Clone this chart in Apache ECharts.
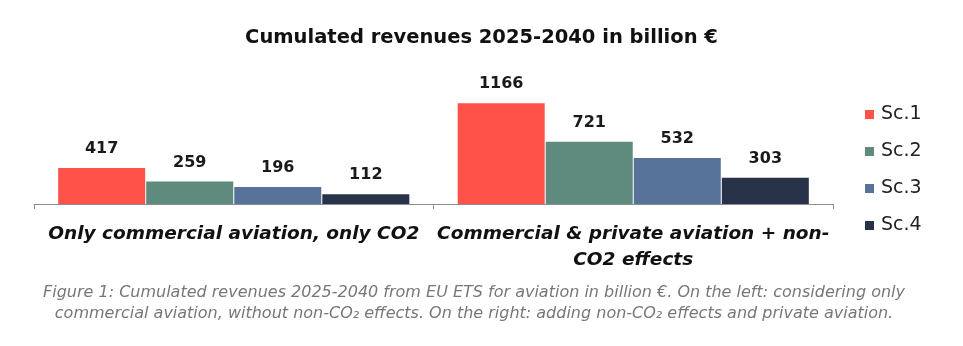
<!DOCTYPE html>
<html>
<head>
<meta charset="utf-8">
<script src="https://cdn.jsdelivr.net/npm/echarts@6/dist/echarts.min.js"></script>
<style>
  html, body { margin: 0; padding: 0; background: #ffffff; }
  #chart { width: 963px; height: 346px; }
</style>
</head>
<body>
<div id="chart"></div>
<script>
// Scenario groups shown on the category axis
const categories = [
  'Only commercial aviation, only CO2',
  'Commercial & private aviation + non-\nCO2 effects'
];
// Cumulated revenues 2025-2040, billion €
const sc1 = [417, 1166];
const sc2 = [259, 721];
const sc3 = [196, 532];
const sc4 = [112, 303];
const seriesNames = ['Sc.1', 'Sc.2', 'Sc.3', 'Sc.4'];
const colors = ['#FF5248', '#5E8B7E', '#57739A', '#283349'];

const titleText = 'Cumulated revenues 2025-2040 in billion €';
const captionLines = [
  'Figure 1: Cumulated revenues 2025-2040 from EU ETS for aviation in billion €. On the left: considering only',
  'commercial aviation, without non-CO₂ effects. On the right: adding non-CO₂ effects and private aviation.'
];

const font = 'DejaVu Sans';

const chart = echarts.init(document.getElementById('chart'), null, { renderer: 'canvas' });

const data = [sc1, sc2, sc3, sc4];
const series = data.map((vals, i) => ({
  name: seriesNames[i],
  type: 'bar',
  data: vals,
  barWidth: 87,
  barGap: '1.2%',
  itemStyle: { color: colors[i] },
  label: {
    show: true,
    position: 'top',
    distance: 11,
    fontFamily: font,
    fontWeight: 'bold',
    fontSize: 16,
    color: '#1a1a1a'
  }
}));

// Figure caption, one centred text element per line
const captionGraphics = captionLines.map((line, i) => ({
  type: 'text',
  x: 474,
  y: 293 + i * 21,
  style: {
    text: line,
    fontFamily: font,
    fontStyle: 'italic',
    fontSize: 16,
    fill: '#777777',
    align: 'center',
    verticalAlign: 'middle'
  }
}));

chart.setOption({
  animation: false,
  backgroundColor: '#ffffff',
  title: {
    text: titleText,
    left: 'center',
    top: 23,
    textStyle: { fontFamily: font, fontWeight: 'bold', fontSize: 19.5, color: '#111' }
  },
  graphic: captionGraphics,
  legend: {
    orient: 'vertical',
    left: 860,
    top: 100,
    itemWidth: 9,
    itemHeight: 9,
    itemGap: 18,
    icon: 'rect',
    data: seriesNames,
    textStyle: { fontFamily: font, fontSize: 19, color: '#222', padding: [0, 0, 0, 2] }
  },
  grid: { left: 34, right: 130, top: 83, bottom: 142 },
  xAxis: {
    type: 'category',
    data: categories,
    axisLine: { lineStyle: { color: '#8c8c8c', width: 1 } },
    axisTick: { show: true, length: 5, lineStyle: { color: '#8c8c8c' } },
    axisLabel: {
      margin: 17,
      fontFamily: font,
      fontWeight: 'bold',
      fontStyle: 'italic',
      fontSize: 18.5,
      lineHeight: 26,
      color: '#111',
      interval: 0
    }
  },
  yAxis: {
    type: 'value',
    min: 0,
    max: 1400,
    show: false,
    splitLine: { show: false }
  },
  series: series
});
</script>
</body>
</html>
